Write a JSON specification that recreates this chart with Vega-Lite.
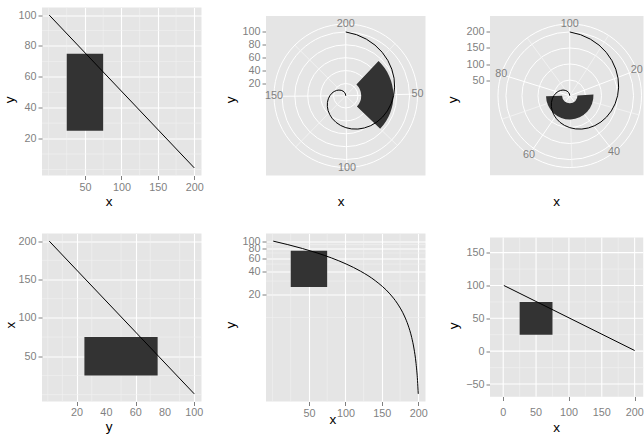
{
 "$schema": "https://vega.github.io/schema/vega-lite/v6.json",
 "padding": {"left": 2, "top": 6.5, "right": 0, "bottom": 0},
 "autosize": {"type": "pad"},
 "bounds": "flush",
 "columns": 3,
 "spacing": {"row": 58, "column": 64},
 "datasets": {
  "rect": [{"xmin": 25, "xmax": 75, "ymin": 25, "ymax": 75, "cx": 0, "cy": 0}],
  "line": [{"x": 1, "y": 100}, {"x": 200, "y": 1}],
  "linelog": [
   {"x": 1, "y": 100}, {"x": 21, "y": 90.05}, {"x": 41, "y": 80.101}, {"x": 61, "y": 70.151},
   {"x": 81, "y": 60.201}, {"x": 101, "y": 50.251}, {"x": 121, "y": 40.302}, {"x": 141, "y": 30.352},
   {"x": 161, "y": 20.402}, {"x": 171, "y": 15.427}, {"x": 181, "y": 10.452}, {"x": 186, "y": 7.965},
   {"x": 191, "y": 5.477}, {"x": 194, "y": 3.985}, {"x": 197, "y": 2.492}, {"x": 199, "y": 1.497},
   {"x": 200, "y": 1}
  ],
  "sq": [{"lo": -0.5, "hi": 0.5}],
  "sq6": [{"xlo": -20.1, "xhi": 213.5, "ylo": -69.5, "yhi": 173.2}],
  "gx6maj": [{"v": 0, "lo": -69.5, "hi": 173.2}, {"v": 50, "lo": -69.5, "hi": 173.2}, {"v": 100, "lo": -69.5, "hi": 173.2}, {"v": 150, "lo": -69.5, "hi": 173.2}, {"v": 200, "lo": -69.5, "hi": 173.2}],
  "gx6min": [{"v": 25, "lo": -69.5, "hi": 173.2}, {"v": 75, "lo": -69.5, "hi": 173.2}, {"v": 125, "lo": -69.5, "hi": 173.2}, {"v": 175, "lo": -69.5, "hi": 173.2}],
  "gy6maj": [{"v": -50, "lo": -20.1, "hi": 213.5}, {"v": 0, "lo": -20.1, "hi": 213.5}, {"v": 50, "lo": -20.1, "hi": 213.5}, {"v": 100, "lo": -20.1, "hi": 213.5}, {"v": 150, "lo": -20.1, "hi": 213.5}],
  "gy6min": [{"v": -25, "lo": -20.1, "hi": 213.5}, {"v": 25, "lo": -20.1, "hi": 213.5}, {"v": 75, "lo": -20.1, "hi": 213.5}, {"v": 125, "lo": -20.1, "hi": 213.5}],
  "lx4": [{"v": 20}, {"v": 40}, {"v": 60}, {"v": 80}, {"v": 100}],
  "lx6": [{"v": 0}, {"v": 50}, {"v": 100}, {"v": 150}, {"v": 200}],
  "spiral": [
   {"i": 0, "px": 0, "py": 0.4}, {"i": 1, "px": 0.06753, "py": 0.38298}, {"i": 2, "px": 0.12921, "py": 0.35499},
   {"i": 3, "px": 0.18333, "py": 0.31754}, {"i": 4, "px": 0.22855, "py": 0.27237}, {"i": 5, "px": 0.26386, "py": 0.22141},
   {"i": 6, "px": 0.28868, "py": 0.16667}, {"i": 7, "px": 0.30279, "py": 0.11021}, {"i": 8, "px": 0.30638, "py": 0.05402},
   {"i": 9, "px": 0.3, "py": 0}, {"i": 10, "px": 0.2845, "py": -0.05017}, {"i": 11, "px": 0.26102, "py": -0.09501},
   {"i": 12, "px": 0.23094, "py": -0.13333}, {"i": 13, "px": 0.19577, "py": -0.16427}, {"i": 14, "px": 0.15713, "py": -0.18725},
   {"i": 15, "px": 0.11667, "py": -0.20207}, {"i": 16, "px": 0.076, "py": -0.20882}, {"i": 17, "px": 0.03666, "py": -0.2079},
   {"i": 18, "px": 0, "py": -0.2}, {"i": 19, "px": -0.0328, "py": -0.18602}, {"i": 20, "px": -0.0608, "py": -0.16706},
   {"i": 21, "px": -0.08333, "py": -0.14434}, {"i": 22, "px": -0.09999, "py": -0.11916}, {"i": 23, "px": -0.11065, "py": -0.09285},
   {"i": 24, "px": -0.11547, "py": -0.06667}, {"i": 25, "px": -0.11485, "py": -0.0418}, {"i": 26, "px": -0.10942, "py": -0.01929},
   {"i": 27, "px": -0.1, "py": 0}, {"i": 28, "px": -0.08754, "py": 0.01544}, {"i": 29, "px": -0.07309, "py": 0.0266},
   {"i": 30, "px": -0.05774, "py": 0.03333}, {"i": 31, "px": -0.04256, "py": 0.03571}, {"i": 32, "px": -0.02857, "py": 0.03404},
   {"i": 33, "px": -0.01667, "py": 0.02887}, {"i": 34, "px": -0.0076, "py": 0.02088}, {"i": 35, "px": -0.00193, "py": 0.01094},
   {"i": 36, "px": 0, "py": 0}
  ],
  "spk2maj": [
   {"b": 50, "ex": 0.44987, "ey": 0.01066, "cx": 0, "cy": 0}, {"b": 100, "ex": 0.00711, "ey": -0.44994, "cx": 0, "cy": 0},
   {"b": 150, "ex": -0.44999, "ey": -0.00355, "cx": 0, "cy": 0}, {"b": 200, "ex": 0, "ey": 0.45, "cx": 0, "cy": 0}
  ],
  "spk2min": [
   {"b": 25, "ex": 0.30927, "ey": 0.32688, "cx": 0, "cy": 0}, {"b": 75, "ex": 0.32442, "ey": -0.31185, "cx": 0, "cy": 0},
   {"b": 125, "ex": -0.31441, "ey": -0.32194, "cx": 0, "cy": 0}, {"b": 175, "ex": -0.31945, "ey": 0.31694, "cx": 0, "cy": 0}
  ],
  "spk3maj": [
   {"b": 20, "ex": 0.42036, "ey": 0.1606, "cx": 0, "cy": 0}, {"b": 40, "ex": 0.27817, "ey": -0.35372, "cx": 0, "cy": 0},
   {"b": 60, "ex": -0.25519, "ey": -0.37067, "cx": 0, "cy": 0}, {"b": 80, "ex": -0.42971, "ey": 0.13362, "cx": 0, "cy": 0},
   {"b": 100, "ex": 0, "ey": 0.45, "cx": 0, "cy": 0}
  ],
  "spk3min": [
   {"b": 10, "ex": 0.24329, "ey": 0.37856, "cx": 0, "cy": 0}, {"b": 30, "ex": 0.43373, "ey": -0.11991, "cx": 0, "cy": 0},
   {"b": 50, "ex": 0.01428, "ey": -0.44977, "cx": 0, "cy": 0}, {"b": 70, "ex": -0.42525, "ey": -0.14718, "cx": 0, "cy": 0},
   {"b": 90, "ex": -0.26682, "ey": 0.36238, "cx": 0, "cy": 0}
  ],
  "circ2": [
   {"r": 20, "t0": 1, "t1": 200, "cx": 0, "cy": 0}, {"r": 40, "t0": 1, "t1": 200, "cx": 0, "cy": 0},
   {"r": 60, "t0": 1, "t1": 200, "cx": 0, "cy": 0}, {"r": 80, "t0": 1, "t1": 200, "cx": 0, "cy": 0},
   {"r": 100, "t0": 1, "t1": 200, "cx": 0, "cy": 0}, {"r": 112.375, "t0": 1, "t1": 200, "cx": 0, "cy": 0}
  ],
  "circ3": [
   {"r": 50, "t0": 1, "t1": 100, "cx": 0, "cy": 0}, {"r": 100, "t0": 1, "t1": 100, "cx": 0, "cy": 0},
   {"r": 150, "t0": 1, "t1": 100, "cx": 0, "cy": 0}, {"r": 200, "t0": 1, "t1": 100, "cx": 0, "cy": 0},
   {"r": 224.875, "t0": 1, "t1": 100, "cx": 0, "cy": 0}
  ],
  "lab2": [
   {"b": 50, "rr": 112.375, "cx": 0, "cy": 0}, {"b": 100, "rr": 112.375, "cx": 0, "cy": 0},
   {"b": 150, "rr": 112.375, "cx": 0, "cy": 0}, {"b": 200, "rr": 112.375, "cx": 0, "cy": 0}
  ],
  "lab3": [
   {"b": 20, "rr": 224.875, "cx": 0, "cy": 0}, {"b": 40, "rr": 224.875, "cx": 0, "cy": 0},
   {"b": 60, "rr": 224.875, "cx": 0, "cy": 0}, {"b": 80, "rr": 224.875, "cx": 0, "cy": 0},
   {"b": 100, "rr": 224.875, "cx": 0, "cy": 0}
  ],
  "mx1": [{"v": 0}, {"v": 25}, {"v": 75}, {"v": 125}, {"v": 175}],
  "my1": [{"v": 0}, {"v": 10}, {"v": 30}, {"v": 50}, {"v": 70}, {"v": 90}],
  "my5": [{"v": 10}, {"v": 30}, {"v": 50}, {"v": 70}, {"v": 90}]
 },
 "concat": [
  {
   "width": 159.5, "height": 168,
   "layer": [
    {"data": {"name": "mx1"}, "mark": {"type": "rule", "color": "#F2F2F2", "strokeWidth": 0.6}, "encoding": {"x": {"field": "v", "type": "quantitative"}}},
    {"data": {"name": "my1"}, "mark": {"type": "rule", "color": "#F2F2F2", "strokeWidth": 0.6}, "encoding": {"y": {"field": "v", "type": "quantitative"}}},
    {"data": {"name": "rect"}, "mark": {"type": "rect", "color": "#333333"}, "encoding": {
      "x": {"field": "xmin", "type": "quantitative", "scale": {"domain": [-8.95, 209.95], "nice": false, "zero": false}, "axis": {"values": [50, 100, 150, 200], "labelOverlap": false, "title": "x", "titleX": 66.5, "titleY": 25.5}},
      "x2": {"field": "xmax"},
      "y": {"field": "ymin", "type": "quantitative", "scale": {"domain": [-3.95, 104.95], "nice": false, "zero": false}, "axis": {"values": [20, 40, 60, 80, 100], "labelOverlap": false, "title": "y", "titleX": -32.5, "titleY": 91.8}},
      "y2": {"field": "ymax"}}},
    {"data": {"name": "line"}, "mark": {"type": "line", "color": "black", "strokeWidth": 1}, "encoding": {"x": {"field": "x", "type": "quantitative"}, "y": {"field": "y", "type": "quantitative"}}}
   ]
  },
  {
   "width": 159.5, "height": 168,
   "view": {"fill": "transparent", "stroke": null},
   "layer": [
    {"data": {"name": "sq"}, "mark": {"type": "rect", "fill": "#E5E5E5"}, "encoding": {
      "x": {"field": "lo", "type": "quantitative", "scale": {"domain": [-0.5, 0.5], "nice": false, "zero": false}, "axis": {"title": "x", "labels": false, "ticks": false, "grid": false, "titleX": 74.7, "titleY": 25.5}},
      "x2": {"field": "hi"},
      "y": {"field": "lo", "type": "quantitative", "scale": {"domain": [-0.5, 0.5533], "nice": false, "zero": false}, "axis": {"title": "y", "grid": false, "labelOverlap": false, "values": [0.0767677, 0.1575758, 0.2383838, 0.3191919, 0.4], "labelExpr": "format(datum.value*247.5+1, '.0f')", "titleX": -35.7, "titleY": 91.8}},
      "y2": {"field": "hi"}}},
    {"data": {"name": "circ2"}, "mark": {"type": "arc", "filled": false, "stroke": "white", "strokeWidth": 1}, "encoding": {
      "x": {"field": "cx", "type": "quantitative"}, "y": {"field": "cy", "type": "quantitative"},
      "theta": {"field": "t0", "type": "quantitative", "stack": null, "scale": {"domain": [1, 200], "range": [0, 6.283185307179586], "zero": false, "nice": false}},
      "theta2": {"field": "t1"},
      "radius": {"field": "r", "type": "quantitative", "scale": {"type": "linear", "domain": [1, 100], "range": [0, 63.8], "zero": false, "nice": false}}}},
    {"data": {"name": "spk2min"}, "mark": {"type": "rule", "color": "#F5F5F5", "strokeWidth": 0.8}, "encoding": {
      "x": {"field": "cx", "type": "quantitative"}, "y": {"field": "cy", "type": "quantitative"}, "x2": {"field": "ex"}, "y2": {"field": "ey"}}},
    {"data": {"name": "spk2maj"}, "mark": {"type": "rule", "color": "white", "strokeWidth": 1}, "encoding": {
      "x": {"field": "cx", "type": "quantitative"}, "y": {"field": "cy", "type": "quantitative"}, "x2": {"field": "ex"}, "y2": {"field": "ey"}}},
    {"data": {"name": "rect"}, "mark": {"type": "arc", "color": "#333333"}, "encoding": {
      "x": {"field": "cx", "type": "quantitative"}, "y": {"field": "cy", "type": "quantitative"},
      "theta": {"field": "xmin", "type": "quantitative", "stack": null, "scale": {"domain": [1, 200], "range": [0, 6.283185307179586], "zero": false, "nice": false}},
      "theta2": {"field": "xmax"},
      "radius": {"field": "ymin", "type": "quantitative", "scale": {"type": "linear", "domain": [1, 100], "range": [0, 63.8], "zero": false, "nice": false}},
      "radius2": {"field": "ymax"}}},
    {"data": {"name": "spiral"}, "mark": {"type": "line", "color": "black", "strokeWidth": 1}, "encoding": {
      "x": {"field": "px", "type": "quantitative"}, "y": {"field": "py", "type": "quantitative"}, "order": {"field": "i", "type": "quantitative"}}},
    {"data": {"name": "lab2"}, "mark": {"type": "text", "color": "#7F7F7F", "fontSize": 10.8, "align": "center", "baseline": "middle"}, "encoding": {
      "x": {"field": "cx", "type": "quantitative"}, "y": {"field": "cy", "type": "quantitative"},
      "theta": {"field": "b", "type": "quantitative", "stack": null},
      "radius": {"field": "rr", "type": "quantitative"},
      "text": {"field": "b", "type": "quantitative"}}}
   ]
  },
  {
   "width": 153.5, "height": 168,
   "view": {"fill": "transparent", "stroke": null},
   "layer": [
    {"data": {"name": "sq"}, "mark": {"type": "rect", "fill": "#E5E5E5", "clip": true}, "encoding": {
      "x": {"field": "lo", "type": "quantitative", "scale": {"domain": [-0.5, 0.46238], "nice": false, "zero": false}, "axis": {"title": "x", "labels": false, "ticks": false, "grid": false, "titleX": 66.2, "titleY": 25.5}},
      "x2": {"field": "hi"},
      "y": {"field": "lo", "type": "quantitative", "scale": {"domain": [-0.5, 0.5533], "nice": false, "zero": false}, "axis": {"title": "y", "grid": false, "labelOverlap": false, "values": [0.0984925, 0.198995, 0.2994975, 0.4], "labelExpr": "format(datum.value*497.5+1, '.0f')", "titleX": -37.5, "titleY": 91.8}},
      "y2": {"field": "hi"}}},
    {"data": {"name": "circ3"}, "mark": {"type": "arc", "filled": false, "stroke": "white", "strokeWidth": 1, "clip": true}, "encoding": {
      "x": {"field": "cx", "type": "quantitative"}, "y": {"field": "cy", "type": "quantitative"},
      "theta": {"field": "t0", "type": "quantitative", "stack": null, "scale": {"domain": [1, 100], "range": [0, 6.283185307179586], "zero": false, "nice": false}},
      "theta2": {"field": "t1"},
      "radius": {"field": "r", "type": "quantitative", "scale": {"type": "linear", "domain": [1, 200], "range": [0, 63.8], "zero": false, "nice": false}}}},
    {"data": {"name": "spk3min"}, "mark": {"type": "rule", "color": "#F5F5F5", "strokeWidth": 0.8}, "encoding": {
      "x": {"field": "cx", "type": "quantitative"}, "y": {"field": "cy", "type": "quantitative"}, "x2": {"field": "ex"}, "y2": {"field": "ey"}}},
    {"data": {"name": "spk3maj"}, "mark": {"type": "rule", "color": "white", "strokeWidth": 1}, "encoding": {
      "x": {"field": "cx", "type": "quantitative"}, "y": {"field": "cy", "type": "quantitative"}, "x2": {"field": "ex"}, "y2": {"field": "ey"}}},
    {"data": {"name": "rect"}, "mark": {"type": "arc", "color": "#333333"}, "encoding": {
      "x": {"field": "cx", "type": "quantitative"}, "y": {"field": "cy", "type": "quantitative"},
      "theta": {"field": "ymin", "type": "quantitative", "stack": null, "scale": {"domain": [1, 100], "range": [0, 6.283185307179586], "zero": false, "nice": false}},
      "theta2": {"field": "ymax"},
      "radius": {"field": "xmin", "type": "quantitative", "scale": {"type": "linear", "domain": [1, 200], "range": [0, 63.8], "zero": false, "nice": false}},
      "radius2": {"field": "xmax"}}},
    {"data": {"name": "spiral"}, "mark": {"type": "line", "color": "black", "strokeWidth": 1}, "encoding": {
      "x": {"field": "px", "type": "quantitative"}, "y": {"field": "py", "type": "quantitative"}, "order": {"field": "i", "type": "quantitative"}}},
    {"data": {"name": "lab3"}, "mark": {"type": "text", "color": "#7F7F7F", "fontSize": 10.8, "align": "center", "baseline": "middle"}, "encoding": {
      "x": {"field": "cx", "type": "quantitative"}, "y": {"field": "cy", "type": "quantitative"},
      "theta": {"field": "b", "type": "quantitative", "stack": null},
      "radius": {"field": "rr", "type": "quantitative"},
      "text": {"field": "b", "type": "quantitative"}}}
   ]
  },
  {
   "width": 159.5, "height": 168,
   "layer": [
    {"data": {"name": "my1"}, "mark": {"type": "rule", "color": "#F2F2F2", "strokeWidth": 0.6}, "encoding": {"x": {"field": "v", "type": "quantitative"}}},
    {"data": {"name": "mx1"}, "mark": {"type": "rule", "color": "#F2F2F2", "strokeWidth": 0.6}, "encoding": {"y": {"field": "v", "type": "quantitative"}}},
    {"data": {"name": "rect"}, "mark": {"type": "rect", "color": "#333333"}, "encoding": {
      "x": {"field": "ymin", "type": "quantitative", "scale": {"domain": [-3.95, 104.95], "nice": false, "zero": false}, "axis": {"values": [20, 40, 60, 80, 100], "labels": false, "title": "y", "titleX": 66.5, "titleY": 24.5}},
      "x2": {"field": "ymax"},
      "y": {"field": "xmin", "type": "quantitative", "scale": {"domain": [-8.95, 209.95], "nice": false, "zero": false}, "axis": {"values": [50, 100, 150, 200], "labelOverlap": false, "title": "x", "titleX": -31.5, "titleY": 91.2}},
      "y2": {"field": "xmax"}}},
    {"data": {"name": "line"}, "mark": {"type": "line", "color": "black", "strokeWidth": 1}, "encoding": {"x": {"field": "y", "type": "quantitative"}, "y": {"field": "x", "type": "quantitative"}}},
    {"data": {"name": "lx4"}, "mark": {"type": "text", "color": "#7F7F7F", "fontSize": 10.8, "align": "center", "baseline": "middle"}, "encoding": {
      "x": {"field": "v", "type": "quantitative"}, "y": {"datum": -23.3, "type": "quantitative"}, "text": {"field": "v", "type": "quantitative"}}}
   ]
  },
  {
   "width": 159.5, "height": 168,
   "layer": [
    {"data": {"name": "mx1"}, "mark": {"type": "rule", "color": "#F2F2F2", "strokeWidth": 0.6}, "encoding": {"x": {"field": "v", "type": "quantitative"}}},
    {"data": {"name": "my5"}, "mark": {"type": "rule", "color": "#F2F2F2", "strokeWidth": 0.6}, "encoding": {"y": {"field": "v", "type": "quantitative"}}},
    {"data": {"name": "rect"}, "mark": {"type": "rect", "color": "#333333"}, "encoding": {
      "x": {"field": "xmin", "type": "quantitative", "scale": {"domain": [-8.95, 209.95], "nice": false, "zero": false}, "axis": {"values": [50, 100, 150, 200], "labelOverlap": false, "title": "x", "titleX": 66.3, "titleY": 18}},
      "x2": {"field": "xmax"},
      "y": {"field": "ymin", "type": "quantitative", "scale": {"type": "log", "domain": [0.794, 125.9], "nice": false}, "axis": {"values": [20, 40, 60, 80, 100], "labelOverlap": false, "title": "y", "titleX": -35.7, "titleY": 91.2}},
      "y2": {"field": "ymax"}}},
    {"data": {"name": "linelog"}, "mark": {"type": "line", "color": "black", "strokeWidth": 1, "interpolate": "monotone"}, "encoding": {"x": {"field": "x", "type": "quantitative"}, "y": {"field": "y", "type": "quantitative"}}}
   ]
  },
  {
   "width": 153.5, "height": 168,
   "view": {"fill": "transparent", "stroke": null},
   "layer": [
    {"data": {"name": "sq6"}, "mark": {"type": "rect", "fill": "#E5E5E5", "clip": true}, "encoding": {
      "x": {"field": "xlo", "type": "quantitative", "scale": {"domain": [-20.1, 213.5], "nice": false, "zero": false}, "axis": {"values": [0, 50, 100, 150, 200], "labels": false, "grid": false, "offset": -5, "title": "x", "titleX": 66.2, "titleY": 31}},
      "x2": {"field": "xhi"},
      "y": {"field": "ylo", "type": "quantitative", "scale": {"domain": [-76.6, 179.1], "nice": false, "zero": false}, "axis": {"values": [-50, 0, 50, 100, 150], "labelOverlap": false, "grid": false, "title": "y", "titleX": -36.5, "titleY": 91.8}},
      "y2": {"field": "yhi"}}},
    {"data": {"name": "gx6min"}, "mark": {"type": "rule", "color": "#F2F2F2", "strokeWidth": 0.6}, "encoding": {"x": {"field": "v", "type": "quantitative"}, "y": {"field": "lo", "type": "quantitative"}, "y2": {"field": "hi"}}},
    {"data": {"name": "gy6min"}, "mark": {"type": "rule", "color": "#F2F2F2", "strokeWidth": 0.6, "clip": true}, "encoding": {"y": {"field": "v", "type": "quantitative"}, "x": {"field": "lo", "type": "quantitative"}, "x2": {"field": "hi"}}},
    {"data": {"name": "gx6maj"}, "mark": {"type": "rule", "color": "#FFFFFF", "strokeWidth": 1.1}, "encoding": {"x": {"field": "v", "type": "quantitative"}, "y": {"field": "lo", "type": "quantitative"}, "y2": {"field": "hi"}}},
    {"data": {"name": "gy6maj"}, "mark": {"type": "rule", "color": "#FFFFFF", "strokeWidth": 1.1, "clip": true}, "encoding": {"y": {"field": "v", "type": "quantitative"}, "x": {"field": "lo", "type": "quantitative"}, "x2": {"field": "hi"}}},
    {"data": {"name": "rect"}, "mark": {"type": "rect", "color": "#333333"}, "encoding": {
      "x": {"field": "xmin", "type": "quantitative"}, "x2": {"field": "xmax"},
      "y": {"field": "ymin", "type": "quantitative"}, "y2": {"field": "ymax"}}},
    {"data": {"name": "line"}, "mark": {"type": "line", "color": "black", "strokeWidth": 1}, "encoding": {"x": {"field": "x", "type": "quantitative"}, "y": {"field": "y", "type": "quantitative"}}},
    {"data": {"name": "lx6"}, "mark": {"type": "text", "color": "#7F7F7F", "fontSize": 10.8, "align": "center", "baseline": "middle"}, "encoding": {
      "x": {"field": "v", "type": "quantitative"}, "y": {"datum": -94.3, "type": "quantitative"}, "text": {"field": "v", "type": "quantitative"}}}
   ]
  }
 ],
 "config": {
  "font": "Liberation Sans",
  "view": {"fill": "#E5E5E5", "stroke": null},
  "axis": {
   "domain": false, "grid": true, "gridColor": "#FFFFFF", "gridWidth": 1.1,
   "tickColor": "#7F7F7F", "tickSize": 4, "tickWidth": 1,
   "labelColor": "#7F7F7F", "labelFontSize": 10.8, "labelPadding": 2, "labelFlush": false, "labelOverlap": false,
   "titleFontSize": 13.5, "titleFontWeight": "normal", "titleColor": "#000000", "titleBaseline": "middle"
  }
 }
}
